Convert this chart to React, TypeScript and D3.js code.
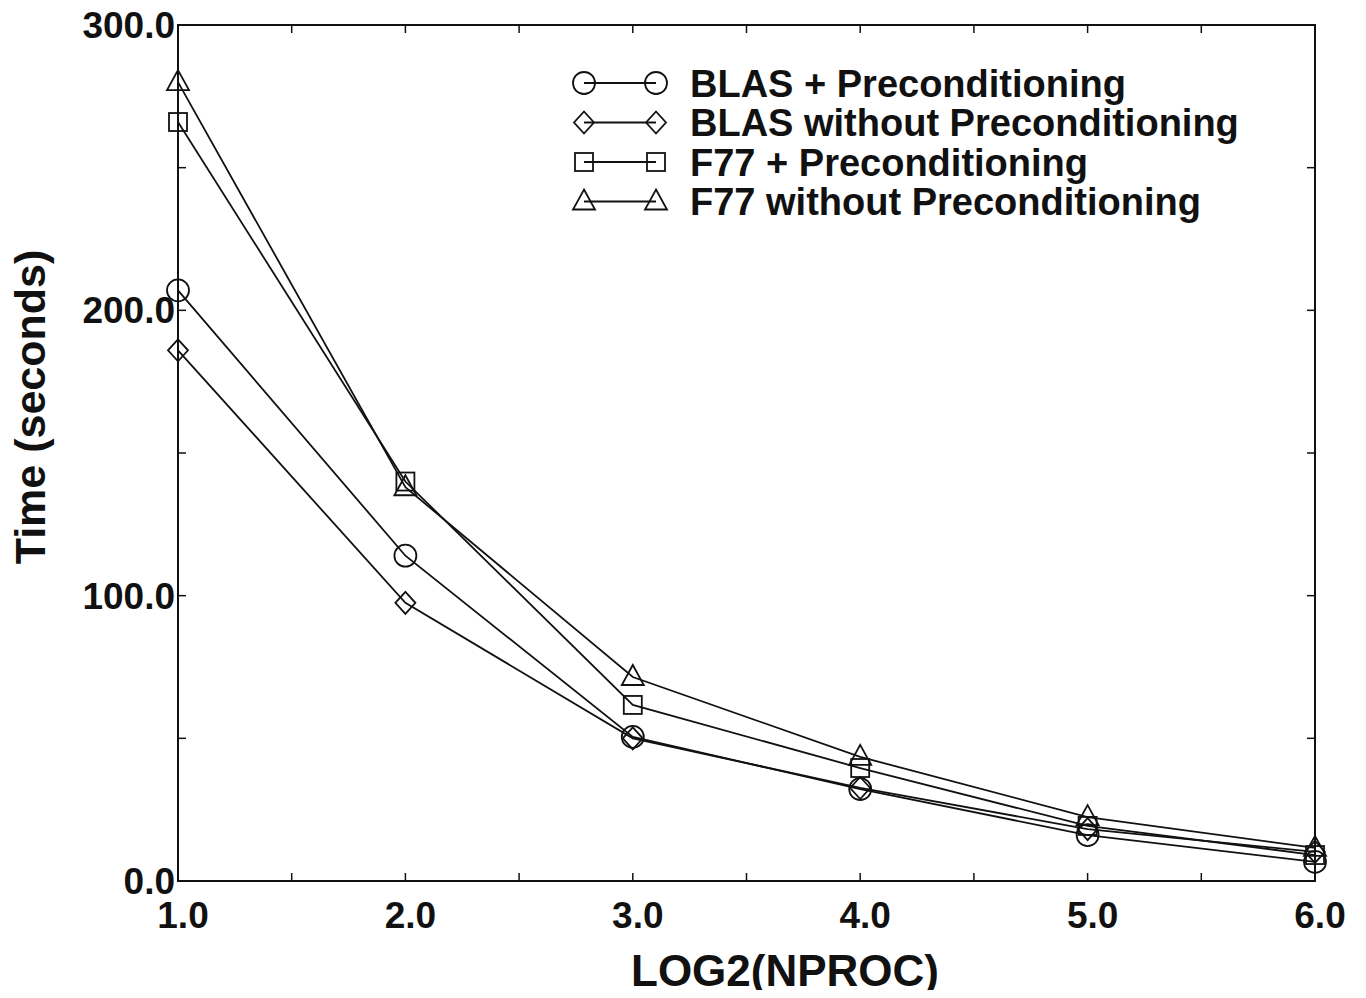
import React, { useEffect, useRef } from "react";
import * as d3 from "d3";

const xValues = [1, 2, 3, 4, 5, 6];
const blasPrec = [207, 114, 50.5, 32.2, 16.1, 6.7];
const blasNoPrec = [186, 97.5, 50, 32.6, 18.2, 10.2];
const f77Prec = [266, 140, 61.7, 39.6, 19.3, 9.1];
const f77NoPrec = [280, 138, 71.5, 43.5, 22.4, 11.6];
const seriesNames = [
  "BLAS + Preconditioning",
  "BLAS without Preconditioning",
  "F77 + Preconditioning",
  "F77 without Preconditioning",
];
const markers = ["circle", "diamond", "square", "triangle"];
const yTicks = [0, 100, 200, 300];
const xTicks = [1, 2, 3, 4, 5, 6];

const width = 1366;
const height = 998;
const margin = { top: 25, right: 51, bottom: 117, left: 178 };
const font = "'Liberation Sans', Arial, Helvetica, sans-serif";

const drawMarker = (g, type, x, y) => {
  if (type === "circle") {
    g.append("circle").attr("cx", x).attr("cy", y).attr("r", 11);
  } else if (type === "diamond") {
    g.append("path").attr("d", `M${x},${y - 11}L${x + 10},${y}L${x},${y + 11}L${x - 10},${y}Z`);
  } else if (type === "square") {
    g.append("rect").attr("x", x - 9).attr("y", y - 9).attr("width", 18).attr("height", 18);
  } else {
    g.append("path").attr("d", `M${x},${y - 12}L${x + 11},${y + 8}L${x - 11},${y + 8}Z`);
  }
};

const Chart = () => {
  const ref = useRef(null);

  useEffect(() => {
    const svg = d3.select(ref.current);
    svg.selectAll("*").remove();
    const iw = width - margin.left - margin.right;
    const ih = height - margin.top - margin.bottom;
    const x = d3.scaleLinear().domain([1, 6]).range([margin.left, margin.left + iw]);
    const y = d3.scaleLinear().domain([0, 300]).range([margin.top + ih, margin.top]);

    // frame
    svg
      .append("rect")
      .attr("x", margin.left)
      .attr("y", margin.top)
      .attr("width", iw)
      .attr("height", ih)
      .attr("fill", "none")
      .attr("stroke", "#111")
      .attr("stroke-width", 2);

    // ticks, inside the frame
    const ticks = svg.append("g").attr("stroke", "#111").attr("stroke-width", 1.5);
    d3.range(1, 6.01, 0.5).forEach((t) => {
      if (t === 1 || t === 6) return;
      ticks.append("line").attr("x1", x(t)).attr("x2", x(t)).attr("y1", y(0)).attr("y2", y(0) - 8);
      ticks.append("line").attr("x1", x(t)).attr("x2", x(t)).attr("y1", y(300)).attr("y2", y(300) + 8);
    });
    d3.range(0, 301, 50).forEach((t) => {
      if (t === 0 || t === 300) return;
      ticks.append("line").attr("x1", x(1)).attr("x2", x(1) + 8).attr("y1", y(t)).attr("y2", y(t));
      ticks.append("line").attr("x1", x(6)).attr("x2", x(6) - 8).attr("y1", y(t)).attr("y2", y(t));
    });

    const labels = svg.append("g").attr("font-family", font).attr("font-weight", "bold").attr("fill", "#111");
    yTicks.forEach((t) => {
      labels
        .append("text")
        .attr("x", margin.left - 3)
        .attr("y", y(t))
        .attr("dy", "0.35em")
        .attr("text-anchor", "end")
        .attr("font-size", 37)
        .text(t.toFixed(1));
    });
    xTicks.forEach((t) => {
      labels
        .append("text")
        .attr("x", x(t) + 5)
        .attr("y", y(0) + 47)
        .attr("text-anchor", "middle")
        .attr("font-size", 37)
        .text(t.toFixed(1));
    });
    labels
      .append("text")
      .attr("x", 785)
      .attr("y", 986)
      .attr("text-anchor", "middle")
      .attr("font-size", 44)
      .text("LOG2(NPROC)");
    labels
      .append("text")
      .attr("transform", `translate(45,407) rotate(-90)`)
      .attr("text-anchor", "middle")
      .attr("font-size", 43)
      .text("Time (seconds)");

    const allSeries = [blasPrec, blasNoPrec, f77Prec, f77NoPrec];
    const line = d3
      .line()
      .x((d) => x(d[0]))
      .y((d) => y(d[1]));

    allSeries.forEach((vals, i) => {
      const pts = xValues.map((v, j) => [v, vals[j]]);
      svg
        .append("path")
        .attr("d", line(pts))
        .attr("fill", "none")
        .attr("stroke", "#111")
        .attr("stroke-width", 1.8);
      const mg = svg.append("g").attr("fill", "none").attr("stroke", "#111").attr("stroke-width", 1.8);
      pts.forEach((p) => drawMarker(mg, markers[i], x(p[0]), y(p[1])));
    });

    // legend
    const legend = svg.append("g");
    seriesNames.forEach((name, i) => {
      const ly = 83 + i * 39.5;
      legend
        .append("line")
        .attr("x1", 584)
        .attr("x2", 656)
        .attr("y1", ly)
        .attr("y2", ly)
        .attr("stroke", "#111")
        .attr("stroke-width", 1.8);
      const mg = legend.append("g").attr("fill", "none").attr("stroke", "#111").attr("stroke-width", 1.8);
      drawMarker(mg, markers[i], 584, ly);
      drawMarker(mg, markers[i], 656, ly);
      legend
        .append("text")
        .attr("x", 690)
        .attr("y", ly)
        .attr("dy", "0.36em")
        .attr("font-family", font)
        .attr("font-weight", "bold")
        .attr("font-size", 38)
        .attr("fill", "#111")
        .text(name);
    });
  }, []);

  return <svg ref={ref} width={width} height={height} style={{ display: "block", background: "#fff" }} />;
};

export default function App() {
  return (
    <div style={{ margin: -8 }}>
      <Chart />
    </div>
  );
}
